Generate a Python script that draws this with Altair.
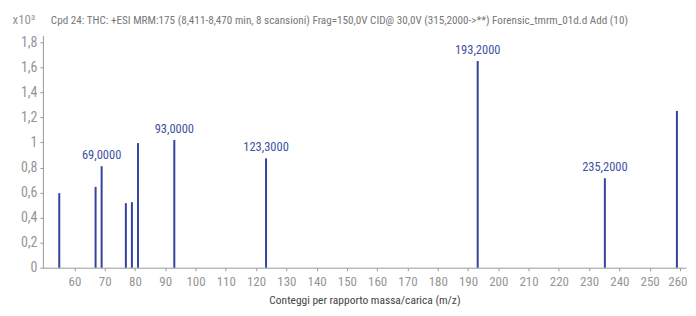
import altair as alt
import pandas as pd

mz = [55.0, 67.0, 69.0, 77.0, 79.0, 81.0, 93.0, 123.3, 193.2, 235.2, 259.0]
counts = [0.595, 0.645, 0.81, 0.515, 0.523, 0.995, 1.02, 0.873, 1.65, 0.714, 1.252]
labels = ["", "", "69,0000", "", "", "", "93,0000", "123,3000", "193,2000", "235,2000", ""]
x_ticks = list(range(60, 261, 10))
y_ticks = [0, 0.2, 0.4, 0.6, 0.8, 1.0, 1.2, 1.4, 1.6, 1.8]

title_text = "Cpd 24: THC: +ESI MRM:175 (8,411-8,470 min, 8 scansioni) Frag=150,0V CID@ 30,0V (315,2000->**) Forensic_tmrm_01d.d Add (10)"

df = pd.DataFrame({"mz": mz, "counts": counts, "label": labels})

FONT = "Roboto Condensed, Roboto, sans-serif"
BAR = "#34449c"
LBL = "#4052a3"
GRAY = "#959595"

x_enc = alt.X("mz:Q", scale=alt.Scale(domain=[49.6, 262], nice=False, zero=False),
              axis=alt.Axis(values=x_ticks, title="Conteggi per rapporto massa/carica (m/z)",
                            grid=False, tickSize=3, labelFontSize=13, labelColor=GRAY,
                            labelOverlap=False, labelFlush=10, labelFlushOffset=7,
                            domainColor="#9a9a9a", tickColor="#9a9a9a", labelPadding=5,
                            titleFontSize=11.5, titleFontWeight="normal", titleColor="#444444",
                            titlePadding=6, labelFont=FONT, titleFont=FONT))
y_enc = alt.Y("counts:Q", scale=alt.Scale(domain=[0, 1.855], nice=False),
              axis=alt.Axis(values=y_ticks, title="x10³", titleAngle=0, titleX=-31, titleY=-16,
                            titleAlign="left", titleBaseline="middle", titleFontSize=13,
                            titleFontWeight="normal", titleColor=GRAY, titleFont=FONT,
                            grid=False, tickSize=3, labelFontSize=14, labelColor=GRAY,
                            labelFont=FONT, labelPadding=3, labelOverlap=False,
                            labelExpr="replace(format(datum.value, '~g'), '.', ',')",
                            domainColor="#9a9a9a", tickColor="#9a9a9a"))

base = alt.Chart(df).encode(x=x_enc, y=y_enc)

bars = base.mark_rule(color=BAR, strokeWidth=2).encode(y2=alt.datum(0))

text = base.transform_filter(alt.datum.label != "").mark_text(
    color=LBL, fontSize=12.5, font=FONT, dy=-4, baseline="bottom", align="center"
).encode(text="label:N")

chart = (bars + text).properties(
    width=645, height=233,
    title=alt.TitleParams(title_text, anchor="start", frame="group", dx=8, offset=-13,
                          fontSize=11.2, font=FONT, fontWeight="normal", color="#777777"),
    autosize=alt.AutoSizeParams(type="none"),
    padding={"left": 35, "top": 27, "right": 2, "bottom": 46},
).configure_view(stroke=None)

chart.save("out.html", embed_options={"renderer": "svg", "actions": False})
